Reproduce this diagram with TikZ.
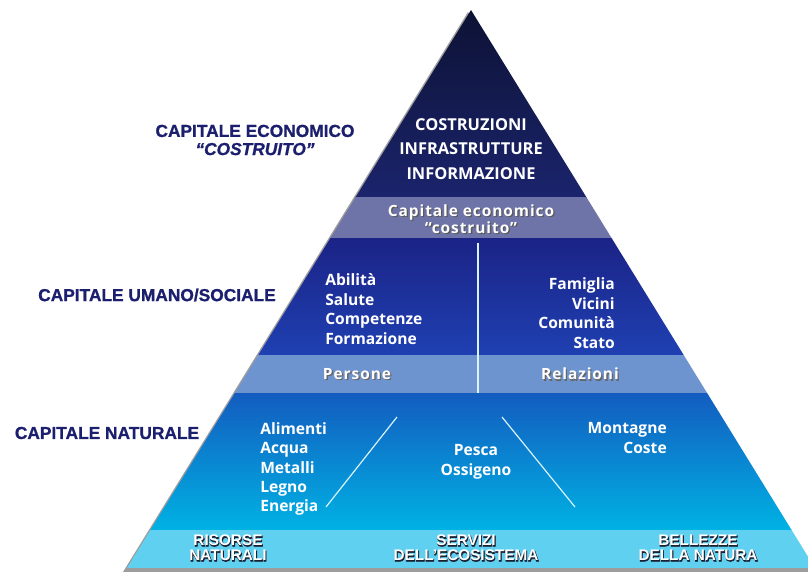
\documentclass[tikz,border=0pt]{standalone}
\usepackage{fontspec}
\setmainfont{Open Sans}
\newfontfamily\headfont[FakeBold=1]{Liberation Sans}
\newfontfamily\basefont{Liberation Sans}
\newfontfamily\basehalo[FakeBold=4]{Liberation Sans}
\newfontfamily\bandfont[LetterSpace=6]{Open Sans}
\usepackage{xcolor}
\usetikzlibrary{positioning,calc}

\definecolor{navytop}{HTML}{0C1131}
\definecolor{navybot}{HTML}{1B246C}
\definecolor{bandecon}{HTML}{6E73A8}
\definecolor{midtop}{HTML}{1B2386}
\definecolor{midbot}{HTML}{1F40B2}
\definecolor{bandsoc}{HTML}{6E94D0}
\definecolor{lowtop}{HTML}{135CBF}
\definecolor{lowbot}{HTML}{00B2E4}
\definecolor{bandnat}{HTML}{60D0F0}
\definecolor{labelblue}{HTML}{1B1F6E}
\definecolor{rim}{HTML}{1C2030}

\begin{document}
\begin{tikzpicture}[
  x=0.75pt, y=-0.75pt,
  every node/.style={inner sep=0pt},
  lvl/.style={font=\headfont\bfseries\fontsize{13}{13.6}\selectfont,
              text=labelblue, align=center},
  apextxt/.style={font=\bfseries\fontsize{12.3}{18.4}\selectfont,
                  text=white, align=center},
  item/.style={font=\bfseries\fontsize{11.7}{14.6}\selectfont, text=white},
  bandtxt/.style={font=\bandfont\bfseries\fontsize{11.6}{11.3}\selectfont,
                  align=center},
  basetxt/.style={font=\basefont\bfseries\fontsize{11.5}{11.3}\selectfont,
                  align=center, text=white},
  halotxt/.style={font=\basehalo\bfseries\fontsize{11.5}{11.3}\selectfont,
                  align=center, text=rim},
  divider/.style={white!85!cyan, line width=0.9pt},
]
\useasboundingbox (0,0) rectangle (808,572);

% --- the pyramid ---
\coordinate (apex) at (471,10);
\coordinate (bl) at (127,568);
\coordinate (br) at (815,568);

\fill[black!55, opacity=0.7] ($(apex)+(-3,2)$) -- ($(bl)+(-4,4)$)
  -- ($(br)+(0,4)$) -- cycle;

\begin{scope}
  \clip (apex) -- (bl) -- (br) -- cycle;
  \shade[top color=navytop, bottom color=navybot] (100,0) rectangle (840,197);
  \fill[bandecon] (100,197) rectangle (840,238);
  \shade[top color=midtop, bottom color=midbot] (100,238) rectangle (840,355);
  \fill[bandsoc] (100,355) rectangle (840,393);
  \shade[top color=lowtop, bottom color=lowbot] (100,393) rectangle (840,530);
  \fill[bandnat] (100,530) rectangle (840,568);
\end{scope}

% --- dividers ---
\coordinate (vtop) at (478,243);
\coordinate (vbot) at (478,393);
\coordinate (dlt) at (397,417);
\coordinate (dlb) at (326,507);
\coordinate (drt) at (502,417);
\coordinate (drb) at (575,507);
\draw[divider] (vtop) -- (vbot);
\draw[divider] (dlt) -- (dlb);
\draw[divider] (drt) -- (drb);

% --- level labels on the left ---
\node[lvl] (econlvl) at (255,140) {CAPITALE ECONOMICO\\\itshape “COSTRUITO”};
\node[lvl] (soclvl) at (157,295) {CAPITALE UMANO/SOCIALE};
\node[lvl] (natlvl) at (107,433) {CAPITALE NATURALE};

% --- top block ---
\node[apextxt] (built) at (471,149) {COSTRUZIONI\\INFRASTRUTTURE\\INFORMAZIONE};

% --- light bands (shadowed text) ---
\foreach \c/\d [count=\i] in {black!65/1.3, white/0}
  \node[bandtxt, text=\c] (econ\i) at ($(471,219)+(\d,\d)$)
    {Capitale economico\\“costruito”};
\foreach \c/\d [count=\i] in {black!60/1.3, white/0} {
  \node[bandtxt, text=\c] (pers\i) at ($(357,374)+(\d,\d)$) {Persone};
  \node[bandtxt, text=\c] (rel\i) at ($(580,374)+(\d,\d)$) {Relazioni};
}

% --- human / social ---
\node[item, align=left, anchor=west] (people) at (325,309)
  {Abilità\\Salute\\Competenze\\Formazione};
\node[item, align=right, anchor=east] (ties) at (615,313)
  {Famiglia\\Vicini\\Comunità\\Stato};

% --- natural ---
\node[item, align=left, anchor=west] (res) at (260,469)
  {Alimenti\\Acqua\\Metalli\\Legno\\Energia};
\node[item, align=center] (serv) at (476,462) {Pesca\\Ossigeno};
\node[item, align=right, anchor=east] (beauty) at (667,438)
  {Montagne\\Coste};

% --- base band (dark halo under white letters) ---
\foreach \s/\d [count=\i] in {halotxt/0.6, basetxt/0} {
  \node[\s] (risorse\i) at ($(228,548)+(\d,\d)$) {RISORSE\\NATURALI};
  \node[\s] (servizi\i) at ($(466,548)+(\d,\d)$) {SERVIZI\\DELL’ECOSISTEMA};
  \node[\s] (bellezze\i) at ($(698,548)+(\d,\d)$) {BELLEZZE\\DELLA NATURA};
}

\end{tikzpicture}
\end{document}
